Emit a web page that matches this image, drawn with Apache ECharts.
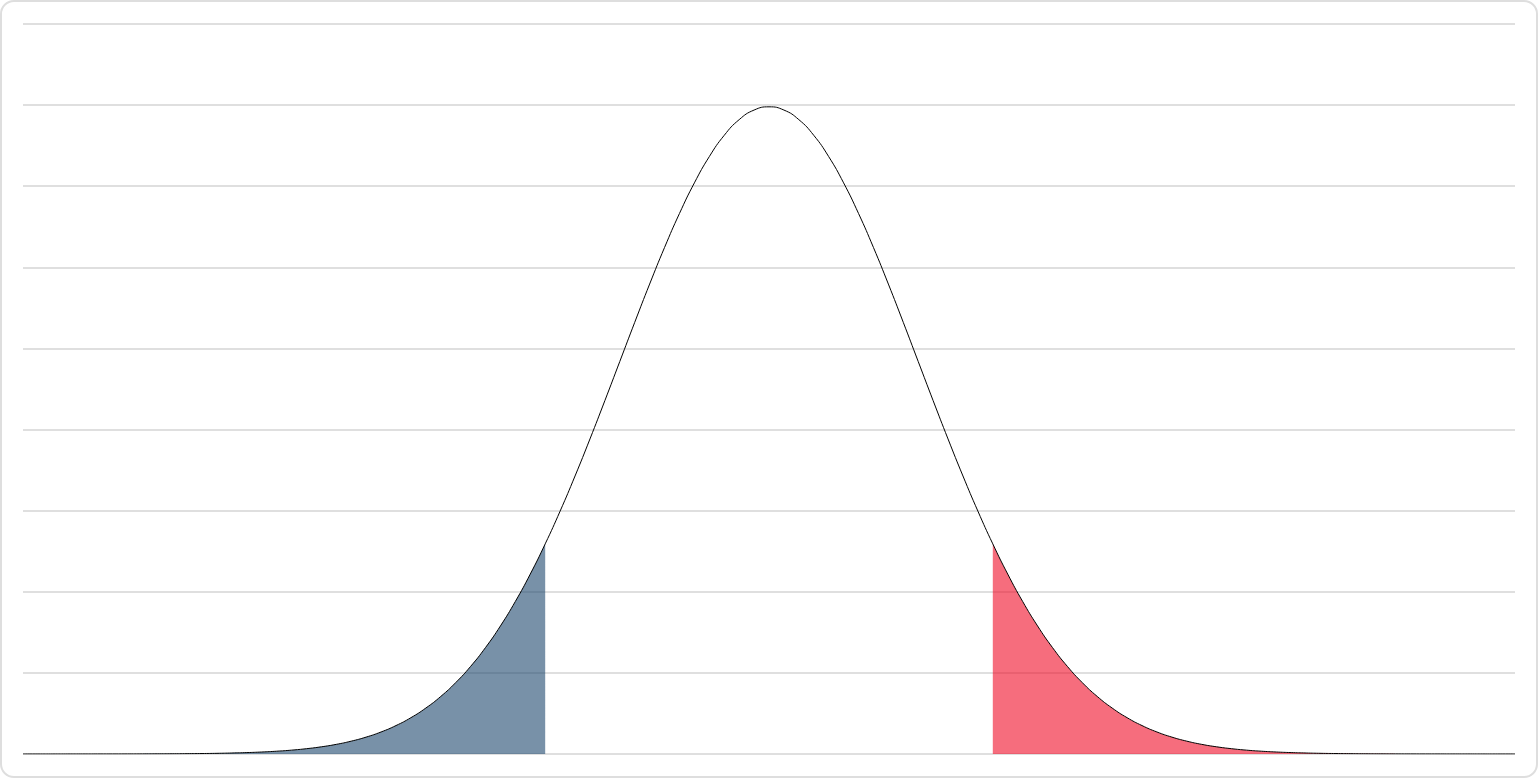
<!DOCTYPE html>
<html>
<head>
<meta charset="utf-8">
<script src="https://cdn.jsdelivr.net/npm/echarts@6/dist/echarts.min.js"></script>
<style>
html,body{margin:0;padding:0;background:#fff;}
#wrap{position:relative;width:1538px;height:778px;}
#chart{position:absolute;left:0;top:0;width:1538px;height:778px;}
#frame{position:absolute;left:0;top:0;width:1538px;height:778px;box-sizing:border-box;border:2px solid #dedede;border-radius:14px;pointer-events:none;}
</style>
</head>
<body>
<div id="wrap"><div id="chart"></div><div id="frame"></div></div>
<script>
// z values (standard deviations)
const xValues = [
 -5.0,-4.9,-4.8,-4.7,-4.6,-4.5,-4.4,-4.3,-4.2,-4.1,
 -4.0,-3.9,-3.8,-3.7,-3.6,-3.5,-3.4,-3.3,-3.2,-3.1,
 -3.0,-2.9,-2.8,-2.7,-2.6,-2.5,-2.4,-2.3,-2.2,-2.1,
 -2.0,-1.9,-1.8,-1.7,-1.6,-1.5,-1.4,-1.3,-1.2,-1.1,
 -1.0,-0.9,-0.8,-0.7,-0.6,-0.5,-0.4,-0.3,-0.2,-0.1,
 0.0,
 0.1,0.2,0.3,0.4,0.5,0.6,0.7,0.8,0.9,1.0,
 1.1,1.2,1.3,1.4,1.5,1.6,1.7,1.8,1.9,2.0,
 2.1,2.2,2.3,2.4,2.5,2.6,2.7,2.8,2.9,3.0,
 3.1,3.2,3.3,3.4,3.5,3.6,3.7,3.8,3.9,4.0,
 4.1,4.2,4.3,4.4,4.5,4.6,4.7,4.8,4.9,5.0
];
// density values
const densities = [
 0,0,0,0.00001,0.00001,0.00002,0.00002,0.00004,0.00006,0.00009,
 0.00013,0.0002,0.00029,0.00042,0.00061,0.00087,0.00123,0.00172,0.00238,0.00327,
 0.00443,0.00595,0.00792,0.01042,0.01358,0.01753,0.02239,0.02833,0.03547,0.04398,
 0.05399,0.06562,0.07895,0.09405,0.11092,0.12952,0.14973,0.17137,0.19419,0.21785,
 0.24197,0.26609,0.28969,0.31225,0.33322,0.35207,0.36827,0.38139,0.39104,0.39695,
 0.39894,
 0.39695,0.39104,0.38139,0.36827,0.35207,0.33322,0.31225,0.28969,0.26609,0.24197,
 0.21785,0.19419,0.17137,0.14973,0.12952,0.11092,0.09405,0.07895,0.06562,0.05399,
 0.04398,0.03547,0.02833,0.02239,0.01753,0.01358,0.01042,0.00792,0.00595,0.00443,
 0.00327,0.00238,0.00172,0.00123,0.00087,0.00061,0.00042,0.00029,0.0002,0.00013,
 0.00009,0.00006,0.00004,0.00002,0.00002,0.00001,0.00001,0,0,0
];
const leftCut = -1.5;
const rightCut = 1.5;

const curve = xValues.map((x, i) => [x, densities[i]]);
const leftTail = curve.filter(p => p[0] <= leftCut + 1e-9);
const rightTail = curve.filter(p => p[0] >= rightCut - 1e-9);

const chart = echarts.init(document.getElementById('chart'), null, {renderer: 'canvas'});
chart.setOption({
  animation: false,
  grid: {left: 23, right: 23, top: 24, bottom: 24},
  xAxis: {
    type: 'value', min: -5, max: 5,
    show: true,
    axisLine: {show: false}, axisTick: {show: false}, axisLabel: {show: false},
    splitLine: {show: false}
  },
  yAxis: {
    type: 'value', min: 0, max: 0.45, interval: 0.05,
    axisLine: {show: false}, axisTick: {show: false}, axisLabel: {show: false},
    splitLine: {show: true, lineStyle: {color: '#d4d4d4', width: 1.5}}
  },
  series: [
    {
      type: 'line', data: leftTail, smooth: true, symbol: 'none',
      lineStyle: {width: 0},
      areaStyle: {color: 'rgba(30,72,110,0.6)', opacity: 1},
      z: 2
    },
    {
      type: 'line', data: rightTail, smooth: true, symbol: 'none',
      lineStyle: {width: 0},
      areaStyle: {color: 'rgba(240,12,38,0.6)', opacity: 1},
      z: 2
    },
    {
      type: 'line', data: curve, smooth: true, symbol: 'none',
      lineStyle: {color: '#000', width: 1},
      z: 3
    }
  ]
});
</script>
</body>
</html>
